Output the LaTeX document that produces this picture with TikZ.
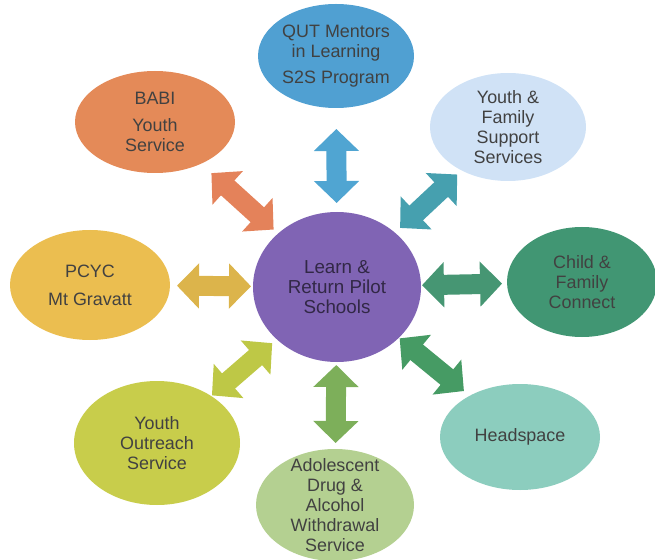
\documentclass[tikz,border=0pt]{standalone}
\usepackage{fontspec}
\setmainfont{Liberation Sans}
\usetikzlibrary{shapes.geometric,arrows.meta}

\definecolor{centrefill}{RGB}{128,100,180}
\definecolor{centreink}{RGB}{50,40,70}
\definecolor{qutfill}{RGB}{80,160,210}
\definecolor{babifill}{RGB}{228,138,88}
\definecolor{yfsfill}{RGB}{208,226,246}
\definecolor{pcycfill}{RGB}{235,190,80}
\definecolor{childfill}{RGB}{65,150,115}
\definecolor{headfill}{RGB}{140,205,190}
\definecolor{adolfill}{RGB}{180,208,145}
\definecolor{outfill}{RGB}{200,205,75}
\definecolor{qutarr}{RGB}{80,165,210}
\definecolor{babiarr}{RGB}{228,130,90}
\definecolor{yfsarr}{RGB}{70,160,175}
\definecolor{pcycarr}{RGB}{220,180,75}
\definecolor{childarr}{RGB}{70,150,115}
\definecolor{outarr}{RGB}{190,200,70}
\definecolor{adolarr}{RGB}{125,175,90}
\definecolor{headarr}{RGB}{70,155,100}
\definecolor{bubbleink}{RGB}{65,65,65}

\begin{document}
\begin{tikzpicture}[x=0.02cm, y=-0.02cm,
	bubble/.style={ellipse, inner sep=0pt, outer sep=0pt},
	bubbletext/.style={align=center, text=bubbleink, font=\fontsize{10.2}{11.4}\selectfont},
	link/.style={line width=0.4cm, >={Triangle[width=0.88cm,length=0.44cm]}, <->}]

	\useasboundingbox (0,0) rectangle (655,560);

	% the bubbles, text set on top of each
	\node[bubble, fill=centrefill, minimum width=168*0.02cm, minimum height=150*0.02cm] (centre) at (337,287) {};
	\node[bubble, fill=qutfill, minimum width=156*0.02cm, minimum height=104*0.02cm] (qut) at (336,56) {};
	\node[bubble, fill=babifill, minimum width=160*0.02cm, minimum height=102*0.02cm] (babi) at (155,122) {};
	\node[bubble, fill=yfsfill, minimum width=156*0.02cm, minimum height=108*0.02cm] (yfs) at (508,127) {};
	\node[bubble, fill=pcycfill, minimum width=160*0.02cm, minimum height=110*0.02cm] (pcyc) at (90,285) {};
	\node[bubble, fill=childfill, minimum width=150*0.02cm, minimum height=110*0.02cm] (child) at (582,282) {};
	\node[bubble, fill=outfill, minimum width=166*0.02cm, minimum height=124*0.02cm] (outreach) at (157,443) {};
	\node[bubble, fill=adolfill, minimum width=158*0.02cm, minimum height=112*0.02cm] (adol) at (335,505) {};
	\node[bubble, fill=headfill, minimum width=160*0.02cm, minimum height=106*0.02cm] (head) at (520,437) {};

	\node[bubbletext, text=centreink, font=\fontsize{10.7}{11.6}\selectfont] at (centre) {Learn \&\\Return Pilot\\Schools};
	\node[bubbletext] at (qut) {QUT Mentors\\in Learning\\[3pt]S2S Program};
	\node[bubbletext] at (babi) {BABI\\[3.5pt]Youth\\Service};
	\node[bubbletext] at (yfs) {Youth \&\\Family\\Support\\Services};
	\node[bubbletext] at (pcyc) {PCYC\\[4.5pt]Mt Gravatt};
	\node[bubbletext] at (child) {Child \&\\Family\\Connect};
	\node[bubbletext] at (outreach) {Youth\\Outreach\\Service};
	\node[bubbletext] at (adol) {Adolescent\\Drug \&\\Alcohol\\Withdrawal\\Service};
	\node[bubbletext] at (head) {Headspace};

	% two-way links out of the centre
	\foreach \n/\c/\a/\b in {qut/qutarr/0.18cm/0.42cm, babi/babiarr/0.12cm/0.28cm,
			yfs/yfsarr/0.14cm/0.12cm, pcyc/pcycarr/0.04cm/0.14cm,
			child/childarr/0.02cm/0.1cm, outreach/outarr/0.12cm/0.02cm,
			adol/adolarr/0.06cm/0.12cm, head/headarr/0.02cm/0.15cm}
		\draw[link, draw=\c, shorten <=\a, shorten >=\b] (centre) -- (\n);

\end{tikzpicture}
\end{document}
